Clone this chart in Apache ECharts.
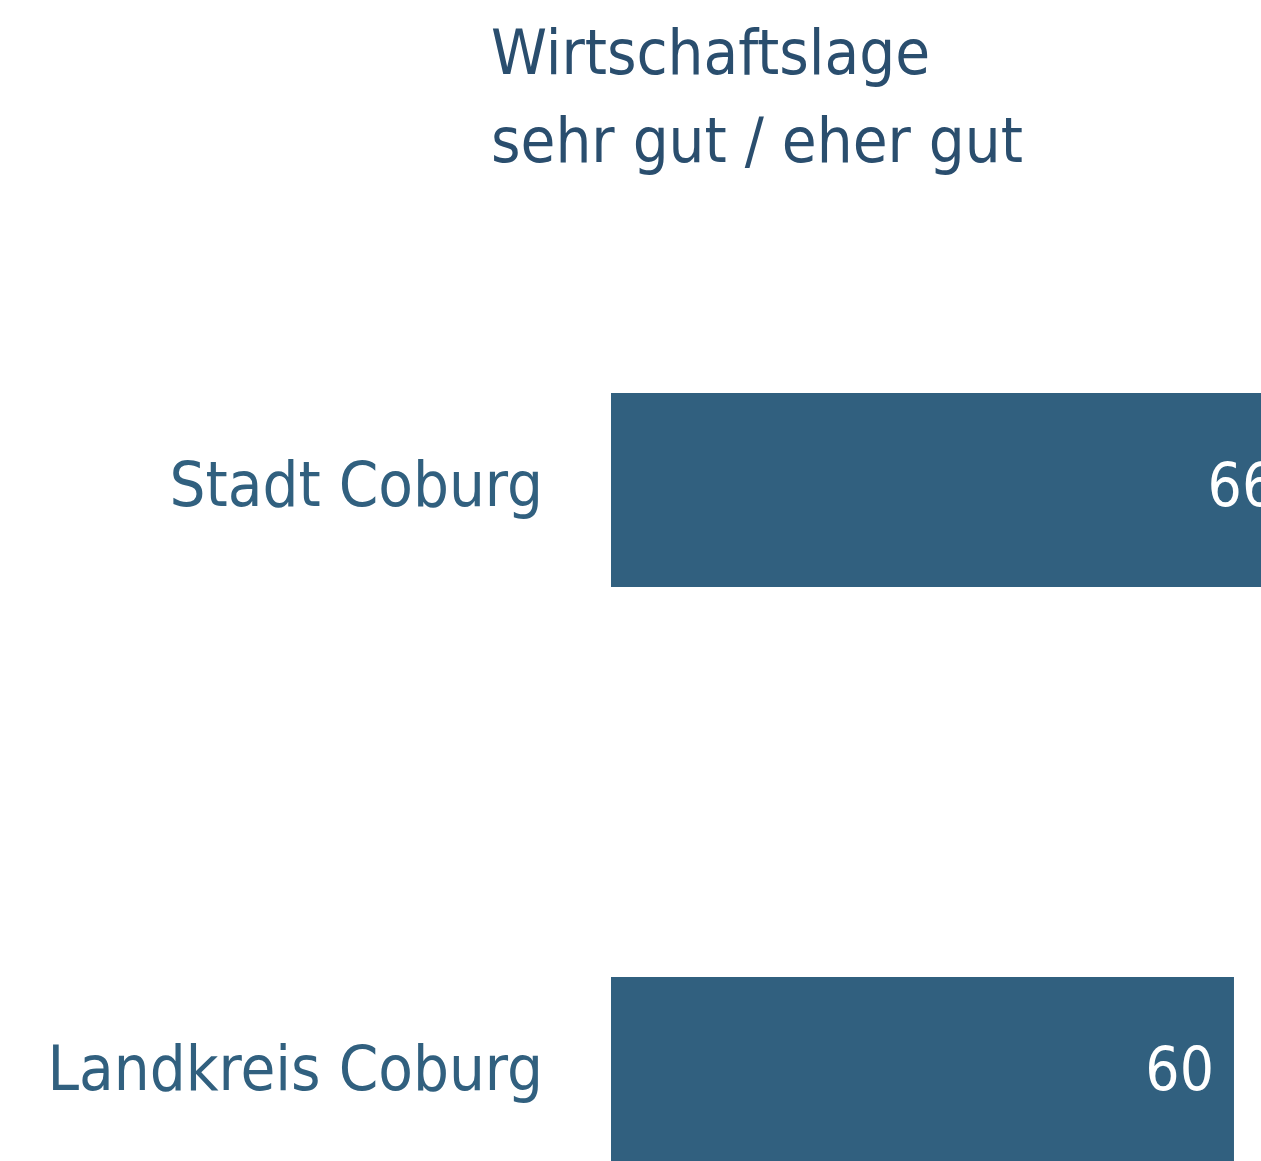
<!DOCTYPE html>
<html><head><meta charset="utf-8">
<script src="https://cdn.jsdelivr.net/npm/echarts@6/dist/echarts.min.js"></script>
<style>html,body{margin:0;padding:0;background:#fff}#c{width:1261px;height:1161px}</style>
</head><body><div id="c"></div>
<script>
const categories = ["Stadt Coburg", "Landkreis Coburg"];
const values = [66, 60];
const titleLines = ["Wirtschaftslage", "sehr gut / eher gut"];

const FONT = '"Liberation Sans Narrow", "DejaVu Sans Condensed", "Noto Sans", sans-serif';
const chart = echarts.init(document.getElementById('c'), null, {renderer: 'canvas'});
chart.setOption({
  animation: false,
  backgroundColor: '#ffffff',
  title: {
    text: titleLines.join('\n'),
    left: 486, top: 9,
    textStyle: {fontFamily: FONT, fontSize: 63, fontWeight: 'normal', color: '#2a4e6e', lineHeight: 88}
  },
  grid: {left: 611, top: 198, width: 1038.3, height: 1168, containLabel: false, outerBoundsMode: 'none'},
  xAxis: {type: 'value', min: 0, max: 100, show: false},
  yAxis: {
    type: 'category', data: categories, inverse: true,
    axisLine: {show: false}, axisTick: {show: false},
    axisLabel: {margin: 68, fontFamily: FONT, fontSize: 63, color: '#31607f'}
  },
  series: [{
    type: 'bar', data: values, barWidth: 194,
    itemStyle: {color: '#31607f'},
    label: {show: true, position: 'insideRight', distance: 20, color: '#ffffff',
      fontFamily: FONT, fontSize: 60}
  }]
});
</script></body></html>
